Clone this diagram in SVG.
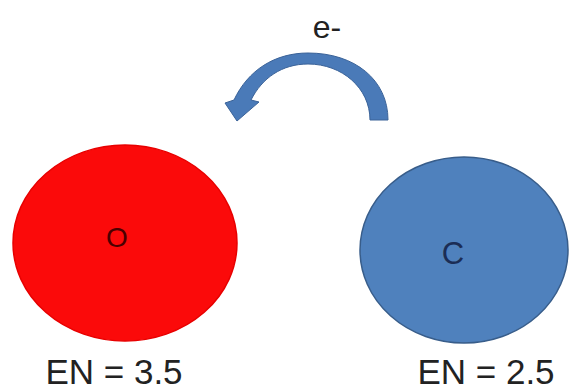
<svg xmlns="http://www.w3.org/2000/svg" width="570" height="390" viewBox="0 0 570 390">
<style>
text{font-family:"Liberation Sans",Arial,sans-serif;}
.lbl{font-size:35px;fill:#222;}
</style>
<rect width="570" height="390" fill="#fff"/>
<g id="oxygen">
<ellipse cx="125" cy="243" rx="112" ry="98" fill="#fb0a0a" stroke="#e80000" stroke-width="1.5"/>
<text x="117" y="247" font-size="28" fill="#4a0000" text-anchor="middle">O</text>
<text x="114" y="384" class="lbl" text-anchor="middle">EN = 3.5</text>
</g>
<g id="carbon">
<ellipse cx="464" cy="250" rx="104" ry="93" fill="#4f81bd" stroke="#385d8a" stroke-width="1.5"/>
<text x="453" y="264" font-size="31" fill="#1b2d55" text-anchor="middle">C</text>
<text x="486" y="384" class="lbl" text-anchor="middle">EN = 2.5</text>
</g>
<g id="connectors">
<path d="M 388 120 C 388 80 355 53 308 53 C 275 53 248 70 234 100 L 225 103 L 237 121 L 259 102 L 251 100 C 262 78 282 64 308 64 C 342 64 370 88 370 120 Z" fill="#4a7ab8" stroke="#3a6298" stroke-width="1"/>
<text x="327" y="38" font-size="32" fill="#222" text-anchor="middle">e-</text>
</g>
</svg>
